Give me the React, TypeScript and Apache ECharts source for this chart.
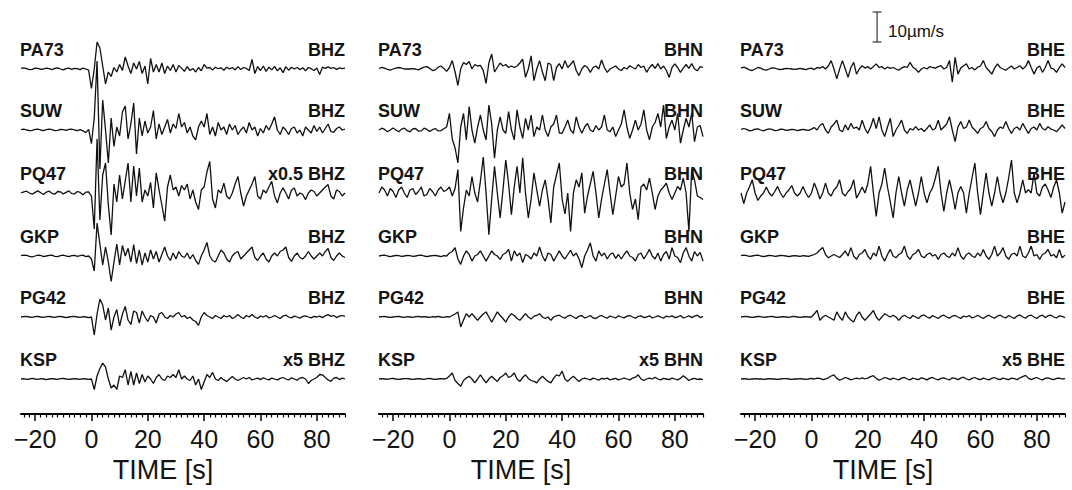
import React, { useEffect, useRef } from "react";
import * as echarts from "echarts";

// ---- sample times (s) ----
const TIME_START = -25;
const TIME_END = 90;
const TIMES: number[] = [];
for (let t = TIME_START; t <= TIME_END; t++) TIMES.push(t);

const STATIONS = ["PA73", "SUW", "PQ47", "GKP", "PG42", "KSP"];
const CHANNELS = ["BHZ", "BHN", "BHE"];
const GAIN_PREFIX: Record<string, string> = {
  PQ47_BHZ: "x0.5 ",
  KSP_BHZ: "x5 ",
  KSP_BHN: "x5 ",
  KSP_BHE: "x5 ",
};
const MAJOR_TICKS = [-20, 0, 20, 40, 60, 80];
const SCALE_BAR_VALUE = 10; // µm/s
const SCALE_BAR_TEXT = "10\u00b5m/s";
const X_TITLE = "TIME [s]";

// ---- traces (µm/s, as displayed), t = -25 .. 90 s, 1 s step ----
const PA73_BHZ = [
  0.2, 0.4, 0.1, -0.2, -0.1, 0.3, 0.2, -0.1, 0, 0.3,
  0.1, -0.2, 0.2, 0.4, 0, -0.3, 0.1, 0.3, -0.1, 0.2,
  0.1, -0.2, 0.3, 0, -0.4, -6.5, 0, 9, 7, 1,
  -5, -1, -2.5, 0.5, -1, 1.5, -0.5, 4, 1, -1.5,
  2, 0, 2.5, -1.5, 1, -5, 3.5, -1, 1.5, -1,
  2, -1.5, 1, -0.5, 1.5, -1, 1.2, 0.3, -0.8, 0.8,
  -0.5, 0.2, -1, 0.5, -0.6, 1.5, 0.3, 0.5, -0.3, 0.6,
  0.1, 0.4, -0.4, 0.6, 0, 0.5, -0.3, 0.8, -0.2, 0.5,
  0.2, -0.5, 3.2, -1.5, 0.8, -0.5, 1, -0.8, 0.6, -0.3,
  0.9, -0.6, 0.4, -1.2, 0.8, -0.4, 0.6, 0, 0.5, -0.2,
  0.4, -0.6, 0.5, 0.1, -0.5, 0.3, -1.8, 0.6, 0.2, 0.7,
  0.2, 0.5, -0.2, 0.4, 0.1, 0.3,
];
const SUW_BHZ = [
  0.1, 0.3, 0, -0.2, -0.1, 0.2, 0.3, 0, -0.2, 0.1,
  0.3, 0.1, -0.2, -0.1, 0.2, 0.1, -0.1, 0.2, 0.3, 0,
  -0.2, 0.1, -0.3, -0.9, 0.2, -4.5, 4, 23, -13, 10,
  0, -11, 4, -5.5, 1, -2, 6, 8, -3, 2,
  9, -8, 4, -2, 3, -1, 1, 6.5, -3, 2,
  -1.5, 1, 3.5, -1, 2, 0.5, 5.5, 1, 2.5, -1,
  1, -2, -3.3, 1, 3, 1, 5.5, -1.5, 1, -2,
  2.5, 0, 1, -1.5, 2, 0, 1.5, -1.5, 0, 1,
  -1, 2.5, 0, 1, -2, 0.5, -1, 1.5, 0, 2,
  4.4, 0, -1.5, 1, 0, -1.5, 0.5, 1, -1, 0,
  -2, 1, 0, -1, 1.5, -0.5, 1, -1, 0.5, 2,
  -0.5, -0.8, 0.5, 1, 0, 0.3,
];
const PQ47_BHZ = [
  0, 0.4, 0.6, 0, -0.4, 0.2, 0.7, 0.1, -0.5, 0.3,
  0.6, -0.1, -0.4, 0.5, 0.4, -0.3, 0.2, 0.7, -0.2, -0.3,
  0.5, 0.2, -0.6, 0.3, 0.4, -1, -12, 18, -9, 6,
  10, -4, -14, 3, -3, 6, -2, 4, 10, -3,
  9, -1, 8.3, -3, 1, -1, 3.5, -5, 6.7, 1,
  -4, -9.4, 2, 6, 1, 2, -1, 2.5, 1, 3,
  -2, 1, -3, -5.5, 1, 2, 7, 10.5, -2, -5,
  1, 0, 3.3, -1, -2, 0, 3, 5.5, 0, -4.4,
  -1, 1, 3, 5.5, -1, -2, 1, 0, 2, 3.9,
  -1, -3.3, 0, 1.7, 0, -2, 1, 1.7, -1, 0,
  -0.5, -2.2, 0, 1, 0.5, -1, 0, 1, 2, 2.8,
  -1, -2, 1, 0.5, -1, 0,
];
const GKP_BHZ = [
  0.1, 0.3, 0.2, -0.1, -0.3, 0, 0.3, 0.2, -0.2, 0,
  0.2, 0.3, -0.1, -0.2, 0.1, 0.3, 0, -0.2, 0.1, 0.2,
  -0.1, 0.1, 0.3, -0.2, 0, -1, -5, 11, 4, -3,
  3, -2, -8.5, -2, 4, -3, 3.5, 0, 2.5, -2,
  3.8, -2.5, 2, -3, 1, -2, 2, -1, 1.5, -2,
  0.5, 3, 0, -1.5, 1, -1, 1.5, 0, -0.5, 1,
  -1, 0.5, -1.5, -2.8, 0, 2, 4.5, 0, -1.5, -2,
  0, 2, 1, -1, -2, 0, 1, 1.5, -1, 0,
  1, 2, 3, -0.5, -1.5, 0, 1, -1, -2, 0,
  1, 0, 1.5, 2, 3, -0.5, -1.8, 0, 1, -0.5,
  -1, 0, 1.5, 0, -1, 0, 1, 0, 1.5, 2.5,
  -0.5, -1.5, 0, 1, 0, -0.5,
];
const PG42_BHZ = [
  0, 0.1, 0.2, 0, -0.1, 0.1, 0.2, 0, -0.1, 0.1,
  0.2, 0, -0.1, 0.1, 0.2, 0, -0.2, 0, 0.1, 0.2,
  0, -0.1, 0.1, 0, -0.2, 0, -6, 1, 6, 4,
  -1, 3, -4.4, 0, 2.5, -3, 1, 3.5, -1, -2.5,
  2, 1.5, -2, 2, 0, -1.5, 0.5, 0, -2, 1,
  1.5, 0, -0.5, 0.5, 0, 1, 1.5, 0, 0.5, -0.5,
  0, -1, -1.5, -2.8, 0, 1.5, 0.5, 0, -0.5, 0.5,
  0, -0.5, 0.5, 0, 0.5, -0.5, 0, 0.8, 0, -0.5,
  0.5, 0, 0.8, 0, -0.5, 0.3, 0, 0.5, -0.3, 0,
  0.5, 0, -0.5, 0.3, 0.6, 0, -0.3, 0.3, 0, -0.4,
  0.2, 0.4, 0, -0.3, 0.2, 0, 0.3, -0.2, 0.4, 0.8,
  0.2, 0.5, -0.2, 0.3, 0.5, 0.2,
];
const KSP_BHZ = [
  0, 0.1, -0.1, 0, 0.2, 0, -0.1, 0.1, 0, -0.2,
  0, 0.1, 0, -0.1, 0.1, 0.2, 0, -0.1, 0, 0.1,
  0, -0.1, 0.1, 0, -0.1, 0, -3.5, 1, 3.5, 5.3,
  4, 0, -3, -2, -3.5, 1, 0.5, 3.1, -2, 2.5,
  -2, 2, -1.5, 1.5, -1, 1, 0, -1.5, 0.5, 1.5,
  0, -0.5, 1, 0.5, 1.5, 0.5, 3.1, 0, 1, 0,
  -0.5, 1, -2, 0, -3.5, -1, 1.5, 0.5, 2.2, 0,
  -0.5, 0.5, -0.3, -0.8, 0, 0.8, 0, -0.5, 0, 0.5,
  0, 0.5, -0.3, 0, 0.3, -0.2, 0.4, 0, -0.3, 0.3,
  0, -0.3, 0.2, 0.5, 0, -0.3, 0.4, 0, -0.4, 0.3,
  0.5, 0, -1.5, -0.5, 0, 0.5, 1.5, 1.4, 0.5, -0.3,
  -0.8, 0.3, 0.5, -0.2, 0.3, 0,
];

const PA73_BHN = [
  0.2, 0.5, 0.3, -0.1, -0.4, 0, 0.3, 0.5, 0.3, 0,
  0, 0, 0.1, 0, -0.3, 0.2, 0.6, 0.8, 0.2, -0.5,
  -0.3, 0.6, 1, 0.2, -0.8, 0.5, 2.8, -1, -5.5, 0,
  2.2, 1.5, 2.5, 0, 1.5, 1, 1.2, -0.5, -4.8, 2,
  5, -1, 0.5, 2, 1, 1.5, 0.5, 1, 0.5, 1,
  2, 3.3, -2.8, 0, 4.4, -3.9, 0, 2.8, -1, -3.9,
  2, 1.5, -3.9, 0.5, 1.8, 0, 2.8, 0.5, 1.5, 2.8,
  -0.5, -2.2, 0, 1.2, 0.5, -1.1, 0.5, 1, 0, 3,
  0.5, -1.1, 0, 0.5, 1, 0, -0.5, 0.5, 0, 1.1,
  0.5, 0, 1.5, 0.5, 1, -1.1, 0.5, 1.5, 0.2, 1.8,
  0, 1, -0.5, -2.8, 0.5, 1.7, 0.5, -1.1, 0.3, 1.5,
  0.2, 1.8, 0, -0.6, 0.8, 0.5,
];
const SUW_BHN = [
  0, 0.6, 0.2, -0.6, 0, 0.7, 0, -0.6, 0.3, 0.6,
  -0.2, -0.6, 0.4, 0.5, -0.4, -0.3, 0.6, 0.2, -0.5, 0.1,
  0.5, -0.3, -0.2, 0.4, 1, 5.5, -3, -6, -11, 1,
  5.5, -3.3, 7.8, 0, -4.4, 1, 5, 0, -3.3, 8.3,
  2, -9.4, 0, 4.4, 0, -1.1, 6.1, 0, -3.3, 6.7,
  1, -2.8, 3.9, 0, 5, -2.2, 1, 0, 5, 0,
  -2.2, 1, 2, 5, -1, -1.1, 1, 3.3, 0, -1.1,
  4.4, 1, -1.1, 1, 2.2, 0, -0.6, 1.5, 0, 1,
  5, 0, -0.6, 1, -2.2, 0, 2, 6.7, 1, -2.8,
  0, 3.3, 0, 2, 6.7, 0, -3.3, 1, 2.5, 5.5,
  1, 8.3, -2.8, 1, 3.3, 0, 5.5, -4.4, 0, 3.9,
  1, 5.5, -3.9, 1, 1.5, -2.2,
];
const PQ47_BHN = [
  0, 2, 1, -1, 1.5, 0.5, -1.5, 1, 2, 0,
  -1.5, 1, 1.5, -0.5, 0.5, 2, -1, -0.5, 1.5, 0.5,
  -1, 1, 2, 0.5, 1, 2, -1, 1.5, 7.8, -12.8,
  -5, 1, -1, 5.5, 0, -3, 4, 12, 0, -13.9,
  -2, 8.9, 0, -8.3, 1, 11, 3, -7.2, 2, 8.9,
  0, 11.7, 0, -8.3, -2, 6.7, 1, -4.4, 1, 4.4,
  -2, -10, 2, 6, 10, -2, -7, 0, -12.8, 0,
  4.4, 2, 6.7, -6.7, -1, 3, 7.2, 0, -8.3, -2,
  3, 7.8, 0, -7.2, -1, 5.5, 2, 3, 10, 0,
  -5.5, -2, -8.9, 2, 3, 1, 5, 0, -5.5, -1,
  1, 2, 3.3, 0, -2.2, 0, 2.2, 1, 5, 0,
  -12.8, 7.8, 4.4, -1, -1.5, -2.2,
];
const GKP_BHN = [
  0, 0.2, 0.3, 0, -0.2, 0, 0.2, 0.1, -0.1, 0,
  0.2, 0.1, -0.1, 0, 0.2, 0.3, 0, -0.2, 0, 0.1,
  0.2, 0, -0.2, 0.1, 0, 1, 1.5, 2.8, -1, -2.8,
  0, 1.7, 0.5, -1.7, 0, 0.5, 1.7, 0, -1.7, 0,
  1.7, 0.5, 0, -1.1, 0.5, 1, 2.2, -1.7, 1.7, 0,
  1, -2.2, 0.5, 0, -1, 1, 0, 3, 0, -1.7,
  1, 0.5, -1.7, 0, 1.7, 0, -1, 0.5, 1.9, 0,
  1, -1, -3.9, 0, 2, 4.4, 0, -1.7, 1.7, 0,
  1, -1, 0.5, 1, -0.8, 0.5, -1, 0.5, 1.7, 0,
  -0.5, -1.7, 0.5, 1, -1, 0.5, 2.2, 0, -1, 1,
  -1.7, 0.5, 1.5, -1, 2.8, 0, -0.5, -2.2, 1, 2.8,
  0, -1.7, 1.5, 0, 1.2, -1.7,
];
const PG42_BHN = [
  0, 0.1, 0.2, 0, -0.1, 0, 0.1, 0.2, 0, -0.1,
  0.1, 0, -0.1, 0.1, 0.2, 0, 0.1, 0, -0.1, 0.1,
  0, 0.2, 0, -0.1, 0.1, 0, 0.5, 1, 1.7, -3.3,
  -1, 1.1, 0, 1.1, 0, -1.1, 0, 1, 1.7, 0,
  -1.7, 0, 1.7, 0.5, -0.5, -1.7, 0, 1.1, 0.5, -0.5,
  -1.1, 0, 1.1, 0, -0.7, 0.3, 0.5, 1.1, 0, -0.5,
  0, -1.1, 0, 0.4, 0.6, 0, -0.4, 0.3, 0.6, 0,
  -0.5, 0.3, 0.5, -0.3, 0, 0.5, -0.3, -0.5, 0.2, 0.5,
  0, -0.4, 0.3, 0, -0.3, 0.4, 0, -0.3, 0.3, 0.5,
  0, -0.4, 0.2, 0.4, -0.2, 0, 0.4, -0.3, 0, 0.4,
  0, -0.4, 0.3, 0, 0.4, -0.2, 0, 0.5, -0.3, 0,
  0.4, -0.2, 0.3, 0.6, -0.2, 0.2,
];
const KSP_BHN = [
  0, 0.1, 0, -0.1, 0.1, 0.2, 0, -0.1, 0, 0.1,
  0.1, 0, -0.1, 0, 0.1, 0, -0.1, 0.1, 0.2, 0,
  -0.1, 0, 0.1, 0, 0.2, 1, 2, -0.5, -1.5, -2.4,
  -0.5, 0.3, 0.9, 0, -1.3, 0, 1.4, 0, -1.3, 0,
  0.9, 0, -0.8, 0.5, 1.1, 2, 0.5, 1, 2, 0,
  -0.8, 0.5, 1.4, 0.2, -0.5, -0.8, -1.3, 0, 0.9, 0,
  -0.8, -1.3, 0.3, 1.4, 1, 2.6, 0, -0.8, 0.2, 0.9,
  0, -0.8, 0, 0.3, 0, -0.3, 0.3, 0, -0.4, 0.2,
  0, 0.3, -0.3, 0, 0.2, -0.3, 0, 0.3, 0, -0.3,
  0.3, 0.6, 1.4, 0, -0.5, 0, 0.3, 0, 0.6, 0,
  -0.3, 0.2, 0, -0.2, 0.3, 0, -0.3, 0.2, 1.1, 0.3,
  -0.5, 0, 0.2, -0.1, 0, -0.2,
];

const PA73_BHE = [
  0.3, 0.6, 0.2, -0.3, -0.5, 0, 0.5, 0.3, -0.2, -0.4,
  0, 0.4, 0.3, 0, -0.2, 0, 0.2, 0.1, 0, -0.1,
  0, 0.2, 0, -0.2, 0.1, 0.3, -0.2, 0.5, 0.3, 0.8,
  0, 1, 2.8, 0, -3.3, 0, 2.8, 0, -2.8, 0.5,
  2.2, -1.7, 0, 1.1, 0.3, 0.8, 0, 0.8, 1.7, 0.5,
  0.8, 0, 0.6, 0.2, 0.5, 0, -0.4, 0.3, 0.8, 0.5,
  2.2, 0.6, 0, -1.1, 0, 0.5, 0, 0.8, 0.5, 0.3,
  0.8, 1.1, 0, 0.5, 2.8, -4.4, 3.9, -1.7, 0.3, 1.1,
  1.7, 0, 0.5, -0.3, 0.6, 1, 2.8, 0.5, -0.5, -1.7,
  0.3, 1.7, 0.5, 0, -0.4, 0.3, 1, 0, 0.5, 1.1,
  0, 0.8, 2.8, 0.5, -1.7, 0.3, 1, -1.1, 0.5, 2.8,
  0.3, 0, -1.1, 0.5, 1.7, 0.5,
];
const SUW_BHE = [
  0.2, 0.5, 0.2, -0.3, -0.1, 0.3, 0.4, 0, -0.3, 0.1,
  0.4, 0.2, -0.2, -0.1, 0.3, 0.2, -0.1, 0, 0.2, 0.1,
  -0.2, 0, 0.2, 0, -0.1, 0.3, 0.8, 0, 1.5, 2.2,
  0, -1.1, 1, 2, 3.3, 0, -0.6, 1.7, 0, 2.2,
  0.5, 1, 0, 3.3, 0.5, -1.1, 1, 3.9, 0.5, 4.4,
  0, -2.2, 1, 3.9, -2.2, 0, 1.5, 3.3, 0, -1.1,
  0.5, 0, 1.1, 0, 0.5, -0.5, 0.5, 1.7, 0, 0.5,
  3.3, 0, 1, 2, 4.4, 0, -3.9, 1, 2.8, 0.5,
  1, 3.3, 1, 0, -1.1, 0.5, 1, 2.8, 0.5, -0.5,
  -2.2, 0, 1, 0.5, 2.8, 0.5, -1.1, 0.5, 1, 0,
  2.2, 0.5, -1.1, 0.5, 1, 0, 2.2, 0.5, 0, 1.1,
  0.3, 0, -0.6, 0.5, 1.7, 0.5,
];
const PQ47_BHE = [
  0, -3.5, 0, 2, 4.4, 0, -2.5, -1, 0, 2,
  0, -1, 0.5, 2.2, 0, -1.5, 0, 1, 2.5, 0,
  -1, 0, 2.2, 0, -1.5, 0, 3.3, 1, -2, 0,
  3.3, 0, -1, 1, 2, 4.4, 0, -1, 0.5, 1.5,
  4.4, -1.7, 0, 2, 0, 3, 8.9, 0, -7.8, 0,
  3, 8.3, 2, -3, -8.3, 0, 5.5, 0, -4.4, 1,
  4.4, 0, -4.4, 0, 5.5, 0, -3.3, 0, 1.7, 5,
  8.9, 0, -6.1, 0, 4.4, 0, -5.5, 0, 2.2, 0,
  -6.7, 0, 5, 10, 0, -7.2, 0, 6.7, 0, -4.4,
  0, 5.5, 0, -3.3, 0, 5, 11, 0, -3.3, 0,
  4.4, 0, 1.1, 0, 6.7, 0, -1, 2, 3, 1,
  -1.5, 2, 4.4, 0, -6.7, -3,
];
const GKP_BHE = [
  0.1, 0.3, 0.1, -0.1, 0, 0.2, 0.3, 0, -0.2, 0,
  0.2, 0.1, -0.1, 0, 0.2, 0.1, 0, -0.2, 0, 0.1,
  0, -0.1, 0.1, 0, -0.1, 0.2, 0.5, 1, 2, 2.8,
  0.5, -0.6, 0, 0.5, 0, -0.5, 0.5, 1.7, 0, 2.8,
  0, -1.1, 0.5, 1, 2.2, 0, -1.1, 1, 0, 3.3,
  0, -1.7, 0.5, 2.2, 0, -0.6, 0.5, 1, 3.3, 0,
  -1.1, 0.5, 1, 2.2, 0, -0.6, 0.5, 1, 0, 0.5,
  -1.1, 0.5, 1, 0, -0.5, 1, 0, 2.8, 0, -1.1,
  0.5, 1, 0, -0.5, 1, 0, 2.2, 0, -1.1, 0.5,
  3.3, 0, 1, 2.8, 0, -1.1, 0.5, 1, 0, 3.3,
  0, -0.6, 1, 3.3, 0, 0.5, -1.1, 0.5, 1, 2.2,
  0, 0.5, -0.6, 2.2, -0.6, 0.3,
];
const PG42_BHE = [
  0, 0.1, 0.2, 0, -0.1, 0, 0.2, 0.1, -0.1, 0,
  0.1, 0.2, 0, -0.1, 0, 0.1, 0, -0.1, 0.1, 0.2,
  0, -0.1, 0, 0.1, 0, 0, 1, 2.2, -1.1, 0,
  0.6, 0, -0.5, -1.1, 1.7, 0, -1.1, 1.7, 0, -1,
  -1.7, 0.5, 1.7, 0, -1.1, 0, 1, 2.2, 0, -1.1,
  0, 1.1, 0.5, 0, 0.6, 0, -1.1, 0, 0.6, 0,
  -0.5, 0.5, 0, -0.5, 0.4, 0.7, 0, -0.4, 0.5, 0,
  -0.5, 0.3, 0.6, 0, -0.4, 0.3, 0.5, 0, -0.5, 0.3,
  0, 0.5, -0.3, 0, 0.6, 0, -0.5, 0.2, 0.6, 0,
  -0.4, 0.3, 0.6, 0, -0.3, 0.5, 0, -0.5, 0.3, 0.7,
  0, -0.4, 0.4, 0.6, 0, -0.5, 0.3, 0.6, -0.2, 0.4,
  0.6, 0, -0.3, 0.4, 0.2, -0.2,
];
const KSP_BHE = [
  0, 0.1, 0, -0.1, 0, 0.1, 0, 0, -0.1, 0,
  0.1, 0, 0, -0.1, 0, 0.1, 0.1, 0, -0.1, 0,
  0, 0.1, 0, -0.1, 0, 0.2, 0, 0.3, 0.2, -0.2,
  0, 0.4, 1, 1.4, 0.2, -0.4, 0, 0.5, 0.2, -0.3,
  0, 0.3, 0, 0.4, 0, 0.3, 0.8, 1.1, 0.2, -0.4,
  0, 0.5, 0.2, -0.2, 0.3, 0, -0.3, 0.3, 0.5, 0,
  -0.3, 0.3, 0, -0.2, 0.4, 0.1, -0.3, 0.3, 0.5, 0,
  -0.3, 0.2, 0.4, 0, -0.3, 0.4, 0.2, -0.2, 0.3, 0.6,
  0, -0.3, 0.2, 0.5, 0, -0.2, 0.3, 0, -0.3, 0.2,
  0.5, 0, -0.2, 0.3, 0, -0.2, 0.3, 0.1, -0.2, 0.4,
  0.8, 1.2, 0.3, -0.2, 0.2, 0.5, 0, -0.3, 0.2, 0.4,
  0, -0.2, 0.2, 0.3, 0, 0.1,
];

const TRACES: Record<string, number[][]> = {
  BHZ: [PA73_BHZ, SUW_BHZ, PQ47_BHZ, GKP_BHZ, PG42_BHZ, KSP_BHZ],
  BHN: [PA73_BHN, SUW_BHN, PQ47_BHN, GKP_BHN, PG42_BHN, KSP_BHN],
  BHE: [PA73_BHE, SUW_BHE, PQ47_BHE, GKP_BHE, PG42_BHE, KSP_BHE],
};

// ---- layout (pixels) ----
const PANEL_LEFT = [21, 379, 741];
const PANEL_WIDTH = 324;
const AXIS_Y = 414;
const PX_PER_UNIT = 3; // 10 µm/s = 30 px
const BASELINE_PX = [69, 130, 193, 256, 317, 379];
const LABEL_RAISE = 19;
const FONT = '"Liberation Sans", Arial, Helvetica, sans-serif';
const INK = "#141414";

export default function App() {
  const ref = useRef<HTMLDivElement>(null);

  useEffect(() => {
    if (!ref.current) return;
    const chart = echarts.init(ref.current, null, { renderer: "svg" });

    const yMin = -AXIS_Y / PX_PER_UNIT;
    const minorTicks: number[] = [];
    for (let v = -24; v <= TIME_END; v += 2) if (v % 20 !== 0) minorTicks.push(v);

    const grids: any[] = [];
    const xAxes: any[] = [];
    const yAxes: any[] = [];
    const series: any[] = [];
    const graphics: any[] = [];

    CHANNELS.forEach((ch, p) => {
      grids.push({ left: PANEL_LEFT[p], top: 0, width: PANEL_WIDTH, height: AXIS_Y });
      xAxes.push({
        type: "value",
        gridIndex: p,
        min: TIME_START,
        max: TIME_END,
        position: "bottom",
        axisLine: { show: true, onZero: false, lineStyle: { color: "#000", width: 2 } },
        axisTick: { show: true, customValues: MAJOR_TICKS, length: 7, lineStyle: { color: "#000", width: 1.5 } },
        axisLabel: {
          show: true,
          customValues: MAJOR_TICKS,
          margin: 12,
          fontSize: 25,
          fontFamily: FONT,
          color: INK,
          formatter: (v: number) => (v < 0 ? "\u2212" + Math.abs(v) : String(v)),
        },
        splitLine: { show: false },
      });
      xAxes.push({
        type: "value",
        gridIndex: p,
        min: TIME_START,
        max: TIME_END,
        position: "bottom",
        offset: 0,
        axisLine: { show: false, onZero: false },
        axisTick: { show: true, customValues: minorTicks, length: 3.5, lineStyle: { color: "#000", width: 1.2 } },
        axisLabel: { show: false },
        splitLine: { show: false },
      });
      yAxes.push({ type: "value", gridIndex: p, min: yMin, max: 0, show: false });

      STATIONS.forEach((st, s) => {
        const vals = TRACES[ch][s];
        const off = -BASELINE_PX[s] / PX_PER_UNIT;
        series.push({
          type: "line",
          xAxisIndex: p * 2,
          yAxisIndex: p,
          data: TIMES.map((t, i) => [t, off + vals[i]]),
          showSymbol: false,
          symbol: "none",
          silent: true,
          lineStyle: { color: "#111", width: 1.3 },
          z: 2,
        });
        graphics.push({
          type: "text",
          x: PANEL_LEFT[p] - 1,
          y: BASELINE_PX[s] - LABEL_RAISE,
          z: 10,
          style: {
            text: st,
            font: `bold 18px ${FONT}`,
            fill: INK,
            textAlign: "left",
            align: "left",
            textVerticalAlign: "middle",
            verticalAlign: "middle",
          },
        });
        graphics.push({
          type: "text",
          x: PANEL_LEFT[p] + PANEL_WIDTH,
          y: BASELINE_PX[s] - LABEL_RAISE,
          z: 10,
          style: {
            text: (GAIN_PREFIX[st + "_" + ch] || "") + ch,
            font: `bold 18px ${FONT}`,
            fill: INK,
            textAlign: "right",
            align: "right",
            textVerticalAlign: "middle",
            verticalAlign: "middle",
          },
        });
      });

      graphics.push({
        type: "text",
        x: PANEL_LEFT[p] + 142,
        y: 470,
        style: {
          text: X_TITLE,
          font: `27px ${FONT}`,
          fill: INK,
          textAlign: "center",
          align: "center",
          textVerticalAlign: "middle",
          verticalAlign: "middle",
        },
      });
    });

    // scale bar (10 µm/s) drawn in the third panel's coordinates
    const barT = 23.3;
    const barHalf = 1.6;
    const barTop = -4;
    const barBottom = barTop - SCALE_BAR_VALUE;
    const barStyle = { color: "#111", width: 1 };
    [
      [[barT, barTop], [barT, barBottom]],
      [[barT - barHalf, barTop], [barT + barHalf, barTop]],
      [[barT - barHalf, barBottom], [barT + barHalf, barBottom]],
    ].forEach((seg) => {
      series.push({
        type: "line",
        xAxisIndex: 4,
        yAxisIndex: 2,
        data: seg,
        showSymbol: false,
        symbol: "none",
        silent: true,
        lineStyle: barStyle,
      });
    });
    graphics.push({
      type: "text",
      x: 888,
      y: 31,
      style: {
        text: SCALE_BAR_TEXT,
        font: `17px ${FONT}`,
        fill: INK,
        textAlign: "left",
        align: "left",
        textVerticalAlign: "middle",
        verticalAlign: "middle",
      },
    });

    chart.setOption({
      animation: false,
      backgroundColor: "#ffffff",
      grid: grids,
      xAxis: xAxes,
      yAxis: yAxes,
      series,
      graphic: graphics,
    });

    return () => chart.dispose();
  }, []);

  return (
    <div
      ref={ref}
      style={{ position: "absolute", left: 0, top: 0, width: 1072, height: 490, background: "#fff" }}
    />
  );
}
